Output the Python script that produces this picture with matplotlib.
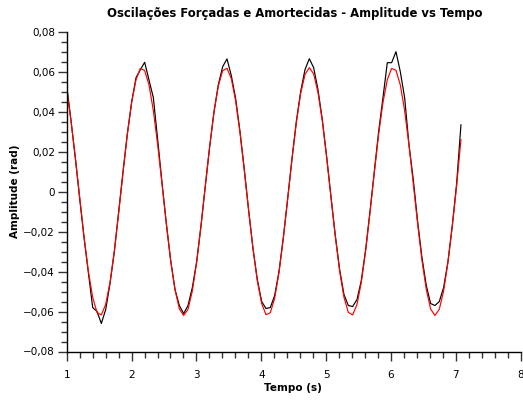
#
# Forced and damped oscillations - measured amplitude vs fitted curve
#

import numpy as np
from matplotlib import pyplot as plt
from matplotlib.ticker import MultipleLocator, FuncFormatter

# sampling grid of the measurement (s)
t_start = 1.0
dt = 0.0668

# measured amplitude (rad)
measured = [0.0530, 0.0355, 0.0165, -0.0035, -0.0230, -0.0405, -0.0580, -0.0600, -0.0660, -0.0590,
            -0.0460, -0.0300, -0.0100, 0.0100, 0.0290, 0.0450, 0.0570, 0.0610, 0.0647, 0.0558,
            0.0470, 0.0260, 0.0045, -0.0160, -0.0345, -0.0490, -0.0570, -0.0610, -0.0570, -0.0480,
            -0.0350, -0.0170, 0.0030, 0.0225, 0.0400, 0.0535, 0.0625, 0.0664, 0.0580, 0.0465,
            0.0300, 0.0110, -0.0095, -0.0285, -0.0440, -0.0550, -0.0585, -0.0580, -0.0520, -0.0400,
            -0.0230, -0.0035, 0.0165, 0.0350, 0.0500, 0.0610, 0.0665, 0.0620, 0.0510, 0.0360,
            0.0175, -0.0025, -0.0220, -0.0390, -0.0515, -0.0570, -0.0575, -0.0540, -0.0445, -0.0290,
            -0.0100, 0.0100, 0.0300, 0.0470, 0.0645, 0.0645, 0.0700, 0.0600, 0.0470, 0.0235,
            0.0060, -0.0150, -0.0330, -0.0470, -0.0560, -0.0570, -0.0550, -0.0480, -0.0350, -0.0170,
            0.0040, 0.0334]

# fitted curve (rad)
fitted = [0.0515, 0.0352, 0.0170, -0.0029, -0.0226, -0.0399, -0.0529, -0.0605, -0.0617, -0.0564,
          -0.0454, -0.0296, -0.0106, 0.0095, 0.0287, 0.0447, 0.0560, 0.0616, 0.0606, 0.0533,
          0.0405, 0.0234, 0.0038, -0.0162, -0.0345, -0.0491, -0.0587, -0.0620, -0.0589, -0.0497,
          -0.0353, -0.0172, 0.0029, 0.0225, 0.0398, 0.0529, 0.0605, 0.0617, 0.0565, 0.0453,
          0.0295, 0.0105, -0.0096, -0.0286, -0.0447, -0.0560, -0.0616, -0.0606, -0.0534, -0.0405,
          -0.0234, -0.0039, 0.0161, 0.0345, 0.0491, 0.0586, 0.0620, 0.0589, 0.0496, 0.0353,
          0.0171, -0.0029, -0.0225, -0.0398, -0.0529, -0.0604, -0.0617, -0.0565, -0.0454, -0.0297,
          -0.0107, 0.0095, 0.0287, 0.0446, 0.0560, 0.0616, 0.0607, 0.0534, 0.0405, 0.0234,
          0.0039, -0.0161, -0.0344, -0.0490, -0.0587, -0.0620, -0.0589, -0.0497, -0.0354, -0.0173,
          0.0028, 0.0260]

t = t_start + dt * np.arange(len(measured))

fig = plt.figure(figsize=(5.23, 4.01), dpi=100)
ax = fig.add_axes([66.7/523, 1 - 351.5/401, 454/523, 319.8/401])

ax.plot(t, measured, color='black', lw=0.85)
ax.plot(t, fitted, color='#ff0000', lw=0.85)

ax.set_xlim(1, 8)
ax.set_ylim(-0.08, 0.08)

ax.spines['top'].set_visible(False)
ax.spines['right'].set_visible(False)
ax.spines['left'].set_linewidth(1.0)
ax.spines['bottom'].set_linewidth(1.0)

ax.xaxis.set_major_locator(MultipleLocator(1))
ax.xaxis.set_minor_locator(MultipleLocator(0.2))
ax.yaxis.set_major_locator(MultipleLocator(0.02))
ax.yaxis.set_minor_locator(MultipleLocator(0.005))

def comma(v, pos):
    if abs(v) < 1e-9:
        return '0'
    s = '%.2f' % v
    return s.replace('.', ',').replace('-', '\u2212')

ax.yaxis.set_major_formatter(FuncFormatter(comma))
ax.xaxis.set_major_formatter(FuncFormatter(lambda v, p: '%d' % round(v)))

ax.tick_params(axis='both', which='major', length=6.5, width=1.0, labelsize=7.5, color='#333333')
ax.tick_params(axis='both', which='minor', length=4, width=1.0, color='#333333')
ax.tick_params(axis='x', which='major', pad=6.5)
ax.tick_params(axis='y', which='major', pad=2)

ax.set_xlabel('Tempo (s)', fontsize=7.5, fontweight='bold')
ax.set_ylabel('Amplitude (rad)', fontsize=7.5, fontweight='bold')
ax.xaxis.set_label_coords((293 - 66.7)/454, (351.5 - 383)/319.8)
ax.yaxis.set_label_coords((20 - 66.7)/454, (351.5 - 191.7)/319.8)

fig.text(295/523, 1 - 13/401, 'Oscilações Forçadas e Amortecidas - Amplitude vs Tempo',
         ha='center', va='center', fontsize=8.4, fontweight='bold')

fig.savefig('out.png', dpi=100)
